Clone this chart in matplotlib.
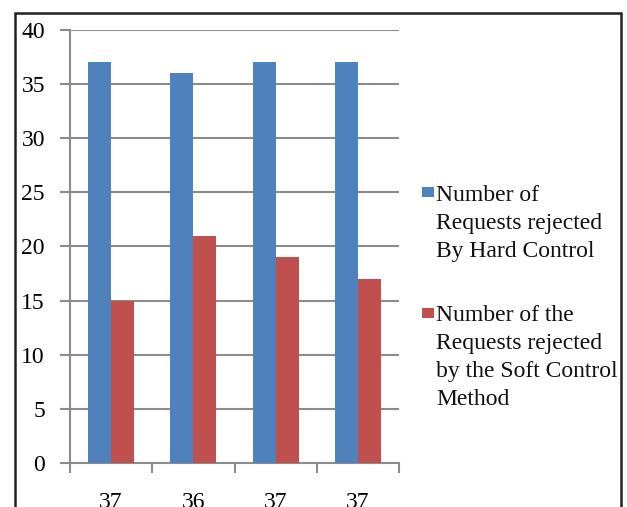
import matplotlib
matplotlib.use("Agg")
import matplotlib.pyplot as plt
from matplotlib.patches import Rectangle
import numpy as np

categories = ["37", "36", "37", "37"]
hard_values = [37, 36, 37, 37]
soft_values = [15, 21, 19, 17]
series_labels = ["Number of\nRequests rejected\nBy Hard Control",
                 "Number of the\nRequests rejected\nby the Soft Control\nMethod"]
yticks = [0, 5, 10, 15, 20, 25, 30, 35, 40]

blue = "#4F81BD"
red = "#C0504D"
grid_c = "#8C8C8C"

plt.rcParams['font.family'] = ['Liberation Serif', 'DejaVu Serif']

W, H = 627, 507
fig = plt.figure(figsize=(W / 100, H / 100), dpi=100)
ax = fig.add_axes([70 / W, 1 - 463 / H, (399 - 70) / W, (463 - 30) / H])

x = np.arange(len(categories))
bw = 0.28
ax.bar(x - bw / 2, hard_values, width=bw, color=blue, zorder=3)
ax.bar(x + bw / 2, soft_values, width=bw, color=red, zorder=3)

ax.set_xlim(-0.5, len(categories) - 0.5)
ax.set_ylim(0, 40)
ax.set_yticks(yticks)
ax.set_yticklabels([str(v) for v in yticks], fontsize=17)
ax.yaxis.grid(True, color=grid_c, linewidth=1.5, zorder=0)
ax.set_axisbelow(True)

ax.set_xticks(x)
ax.set_xticklabels(categories, fontsize=17)
ax.set_xticks(np.arange(-0.5, len(categories)), minor=True)
ax.tick_params(axis='x', which='major', length=0, pad=21)
ax.tick_params(axis='x', which='minor', length=7, width=1.5, color=grid_c, direction='out')
ax.tick_params(axis='y', length=7, width=1.5, color=grid_c, pad=11)

for s in ['top', 'right']:
    ax.spines[s].set_visible(False)
for s in ['left', 'bottom']:
    ax.spines[s].set_color(grid_c)
    ax.spines[s].set_linewidth(1.5)

# legend drawn manually (baseline given for the last line of each label)
leg_x_box = 422 / W
leg_x_txt = 436 / W
entries = [(blue, series_labels[0], 257, 192), (red, series_labels[1], 405, 313)]
for col, lab, ybase, ymark in entries:
    fig.patches.append(Rectangle((leg_x_box, 1 - (ymark + 5) / H), 12 / W, 10 / H,
                                 transform=fig.transFigure, facecolor=col, edgecolor='none'))
    fig.text(leg_x_txt, 1 - ybase / H, lab, fontsize=17, va='baseline', ha='left',
             linespacing=1.43, color='#111111')

# outer frame
fig.patches.append(Rectangle((15 / W, -0.1), (621 - 15) / W, 1.1 - 13 / H,
                             transform=fig.transFigure, fill=False,
                             edgecolor='#222222', linewidth=1.8, clip_on=False))

fig.savefig("out.png", dpi=100)
